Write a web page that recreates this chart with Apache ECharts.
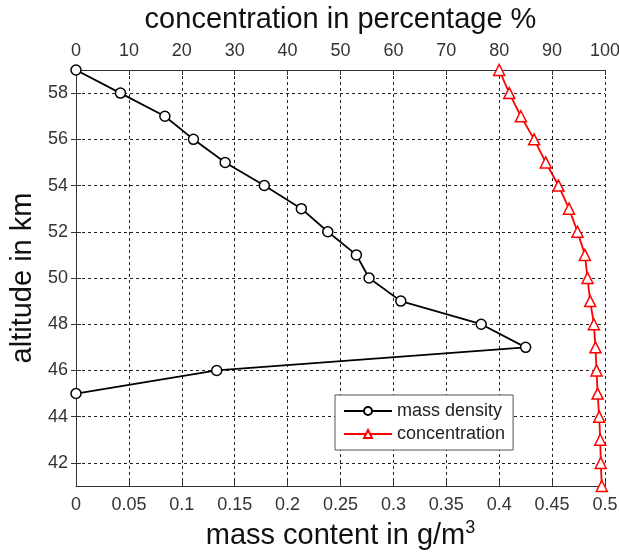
<!DOCTYPE html>
<html>
<head>
<meta charset="utf-8">
<script src="https://cdn.jsdelivr.net/npm/echarts@6/dist/echarts.min.js"></script>
<style>html,body{margin:0;padding:0;background:#fff;}#c{width:619px;height:553px;}</style>
</head>
<body>
<div id="c"></div>
<script>
const massAltitude = [59, 58, 57, 56, 55, 54, 53, 52, 51, 50, 49, 48, 47, 46, 45];
const massDensity = [0, 0.042, 0.084, 0.111, 0.141, 0.178, 0.213, 0.238, 0.265, 0.277, 0.307, 0.383, 0.425, 0.133, 0];
const concAltitude = [59, 58, 57, 56, 55, 54, 53, 52, 51, 50, 49, 48, 47, 46, 45, 44, 43, 42, 41];
const concentration = [80, 81.9, 84.1, 86.6, 88.8, 91.2, 93.2, 94.8, 96.2, 96.7, 97.2, 97.9, 98.2, 98.4, 98.6, 98.9, 99.1, 99.2, 99.4];
const altitudeTicks = [42, 44, 46, 48, 50, 52, 54, 56, 58];

const FONT = '"Liberation Sans", Arial, sans-serif';
const gridLine = { show: true, lineStyle: { color: '#222', type: [3, 3], width: 1 } };
const axisLineStyle = { show: true, lineStyle: { color: '#333', width: 1 } };
const labelStyle = { fontFamily: FONT, fontSize: 18, color: '#333' };

const chart = echarts.init(document.getElementById('c'));
chart.setOption({
  backgroundColor: '#fff',
  animation: false,
  grid: { left: 76, right: 14, top: 70, bottom: 67, containLabel: false, outerBoundsMode: 'none' },
  legend: {
    orient: 'vertical',
    left: 335, top: 395,
    padding: [7, 8, 7, 8],
    itemGap: 5,
    itemWidth: 48, itemHeight: 10,
    backgroundColor: '#fff',
    borderColor: '#555', borderWidth: 1,
    textStyle: { fontFamily: FONT, fontSize: 18, color: '#222' },
    data: ['mass density', 'concentration']
  },
  xAxis: [
    {
      type: 'value', position: 'bottom', min: 0, max: 0.5, interval: 0.05,
      axisLine: axisLineStyle,
      axisTick: { show: true, inside: true, length: 5, lineStyle: { color: '#333' } },
      axisLabel: Object.assign({ margin: 10 }, labelStyle),
      splitLine: gridLine,
      name: '{a|mass content in g/m}{s|3}',
      nameLocation: 'middle', nameGap: 32,
      nameTextStyle: {
        rich: {
          a: { fontFamily: FONT, fontSize: 29, color: '#111' },
          s: { fontFamily: FONT, fontSize: 18, color: '#111', padding: [0, 0, 17, 0] }
        }
      }
    },
    {
      type: 'value', position: 'top', min: 0, max: 100, interval: 10,
      axisLine: axisLineStyle,
      axisTick: { show: true, inside: true, length: 5, lineStyle: { color: '#333' } },
      axisLabel: Object.assign({ margin: 10 }, labelStyle),
      splitLine: { show: false },
      name: 'concentration in percentage %',
      nameLocation: 'middle', nameGap: 36,
      nameTextStyle: { fontFamily: FONT, fontSize: 29, color: '#111' }
    }
  ],
  yAxis: [
    {
      type: 'value', position: 'left', min: 41, max: 59,
      axisLine: axisLineStyle,
      axisTick: { show: true, inside: true, length: 5, lineStyle: { color: '#333' }, customValues: altitudeTicks },
      axisLabel: Object.assign({ margin: 8, customValues: altitudeTicks }, labelStyle),
      splitLine: gridLine,
      name: 'altitude in km',
      nameLocation: 'middle', nameGap: 34,
      nameTextStyle: { fontFamily: FONT, fontSize: 29, color: '#111' }
    },
    {
      type: 'value', position: 'right', min: 41, max: 59,
      axisLine: axisLineStyle,
      axisTick: { show: true, inside: true, length: 5, lineStyle: { color: '#333' }, customValues: altitudeTicks },
      axisLabel: { show: false },
      splitLine: { show: false }
    }
  ],
  series: [
    {
      name: 'mass density', type: 'line', xAxisIndex: 0, yAxisIndex: 0,
      data: massAltitude.map((a, i) => [massDensity[i], a]),
      symbol: 'circle', symbolSize: 10, showAllSymbol: true, clip: false,
      color: '#000',
      lineStyle: { color: '#000', width: 1.8 },
      itemStyle: { color: '#fff', borderColor: '#000', borderWidth: 1.5 },
      z: 3
    },
    {
      name: 'concentration', type: 'line', xAxisIndex: 1, yAxisIndex: 0,
      data: concAltitude.map((a, i) => [concentration[i], a]),
      symbol: 'triangle', symbolSize: 11, showAllSymbol: true, clip: false,
      color: '#f00',
      lineStyle: { color: '#f00', width: 1.8 },
      itemStyle: { color: '#fff', borderColor: '#f00', borderWidth: 1.5 },
      z: 3
    }
  ]
});
</script>
</body>
</html>
